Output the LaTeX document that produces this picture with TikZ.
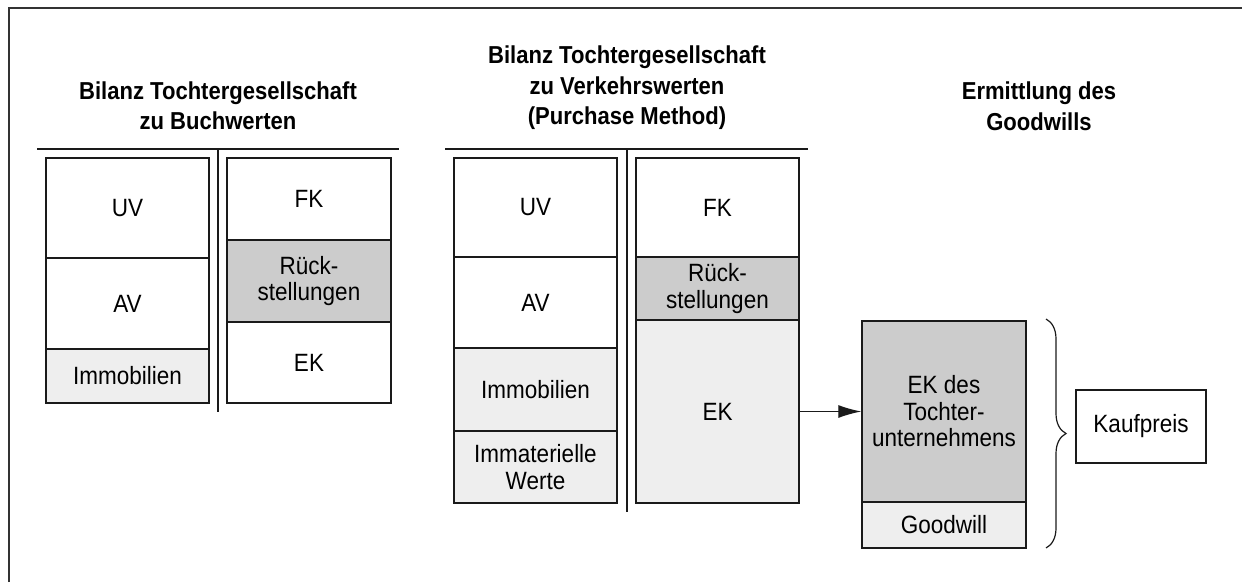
\documentclass[tikz,border=0pt]{standalone}
\usepackage{fontspec}
\setmainfont{Liberation Sans}[FakeStretch=0.9]
\usetikzlibrary{arrows.meta,decorations.pathreplacing}
\definecolor{dk}{HTML}{CCCCCC}
\definecolor{lt}{HTML}{EEEEEE}
\definecolor{ln}{HTML}{1A1A1A}
\begin{document}
\begin{tikzpicture}[x=1pt,y=-1pt,
  cell/.style={draw=ln, line width=1.4pt, inner sep=0pt, align=center,
    font=\fontsize{25}{26.5}\selectfont},
  ttl/.style={align=center, inner sep=0pt,
    font=\fontsize{24.5}{30.5}\selectfont\bfseries},
  rule/.style={draw=ln, line width=1.2pt},
  conn/.style={draw=ln, line width=1.2pt, -{Latex[length=23pt,width=13pt]}}]
\useasboundingbox (0,0) rectangle (1242,582);
% frame
\draw[line width=2pt, draw=black!80] (9,582) -- (9,8) -- (1242,8);
% titles
\node[ttl] (t1) at (218,105.5) {Bilanz Tochtergesellschaft\\zu Buchwerten};
\node[ttl] (t2) at (627,88) {Bilanz Tochtergesellschaft\\zu Verkehrswerten\\(Purchase Method)};
\node[ttl] (t3) at (1039,106) {Ermittlung des\\Goodwills};
% rules
\draw[rule] (37,149) -- (399,149);
\draw[rule] (218,149) -- (218,412);
\draw[rule] (445,149) -- (808,149);
\draw[rule] (627,149) -- (627,512);
% section 1
\node[cell, minimum width=163pt, minimum height=100pt] (uv1) at (127.5,208) {UV};
\node[cell, minimum width=163pt, minimum height=91pt] (av1) at (127.5,303.5) {AV};
\node[cell, fill=lt, minimum width=163pt, minimum height=54pt] (im1) at (127.5,376) {Immobilien};
\node[cell, minimum width=164pt, minimum height=82pt] (fk1) at (309,199) {FK};
\node[cell, fill=dk, minimum width=164pt, minimum height=82pt] (rs1) at (309,281) {Rück-\\stellungen};
\node[cell, minimum width=164pt, minimum height=81pt] (ek1) at (309,362.5) {EK};
% section 2
\node[cell, minimum width=163pt, minimum height=99pt] (uv2) at (535.5,207.5) {UV};
\node[cell, minimum width=163pt, minimum height=91pt] (av2) at (535.5,302.5) {AV};
\node[cell, fill=lt, minimum width=163pt, minimum height=83pt] (im2) at (535.5,389.5) {Immobilien};
\node[cell, fill=lt, minimum width=163pt, minimum height=72pt] (iw2) at (535.5,467) {Immaterielle\\Werte};
\node[cell, minimum width=163pt, minimum height=99pt] (fk2) at (717.5,207.5) {FK};
\node[cell, fill=dk, minimum width=163pt, minimum height=63pt] (rs2) at (717.5,288.5) {Rück-\\stellungen};
\node[cell, fill=lt, minimum width=163pt, minimum height=183pt] (ek2) at (717.5,411.5) {EK};
% section 3
\node[cell, fill=dk, minimum width=164pt, minimum height=181pt] (ekt) at (944,411.5) {EK des\\Tochter-\\unternehmens};
\node[cell, fill=lt, minimum width=164pt, minimum height=46pt] (gw) at (944,525) {Goodwill};
\node[cell, minimum width=130pt, minimum height=73pt] (kp) at (1141,426.5) {Kaufpreis};
% arrow
\draw[conn] (ek2.east) -- (ekt.west);
% brace
\coordinate (bt) at (1046,319);
\coordinate (bb) at (1046,548);
\draw[ln, line width=1.2pt, decorate, decoration={brace, amplitude=20pt}] (bt) -- (bb);
\end{tikzpicture}
\end{document}
